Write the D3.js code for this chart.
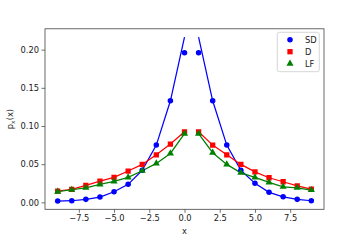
<!DOCTYPE html>
<html lang="en"><head>
<meta charset="utf-8">
<title>distributions</title>
<script src="https://cdn.jsdelivr.net/npm/d3@7"></script>
<style>
  body { margin: 0; background: #fff; }
  text { font-family: "DejaVu Sans", sans-serif; }
</style>
</head>
<body>
<svg width="360" height="240"></svg>
<script>
// data
var xs = [-9, -8, -7, -6, -5, -4, -3, -2, -1, 0, 1, 2, 3, 4, 5, 6, 7, 8, 9];
var sdPts = [0.0017, 0.0021, 0.0039, 0.0069, 0.0139, 0.0236, 0.042, 0.075, 0.133, 0.196,
             0.196, 0.133, 0.075, 0.042, 0.0249, 0.0131, 0.0073, 0.0039, 0.0021];
var sdLine = [0.0017, 0.0021, 0.0039, 0.0069, 0.0139, 0.0236, 0.042, 0.075, 0.133, 0.2165,
              0.2165, 0.133, 0.075, 0.042, 0.0249, 0.0131, 0.0073, 0.0039, 0.0021];
var dVals = [0.0148, 0.017, 0.0222, 0.0279, 0.0327, 0.041, 0.0497, 0.0623, 0.0763, 0.0924,
             0.0924, 0.075, 0.0623, 0.0497, 0.040, 0.0322, 0.027, 0.0217, 0.0174];
var lfVals = [0.0139, 0.0165, 0.0191, 0.0236, 0.0275, 0.0327, 0.0414, 0.051, 0.064, 0.09,
              0.09, 0.065, 0.0497, 0.0387, 0.0327, 0.0262, 0.0204, 0.0191, 0.0161];
var xTicks = [-7.5, -5, -2.5, 0, 2.5, 5, 7.5];
var yTicks = [0, 0.05, 0.10, 0.15, 0.20];
var legendNames = ["SD", "D", "LF"];

var svg = d3.select("svg");
var pl = 45, pr = 324, pt = 28.8, pb = 209.3;

var x = d3.scaleLinear().domain([-9.9, 9.9]).range([pl, pr]);
var y = d3.scaleLinear().domain([-0.0091, 0.2273]).range([pb, pt]);

svg.append("clipPath").attr("id", "plot")
  .append("rect").attr("x", pl).attr("y", pt)
  .attr("width", pr - pl).attr("height", pb - pt);

var series = [
  {name: "SD", pts: sdPts, line: sdLine, color: "#0000ff", shape: d3.symbolCircle, size: 24},
  {name: "D", pts: dVals, line: dVals, color: "#ff0000", shape: d3.symbolSquare, size: 28},
  {name: "LF", pts: lfVals, line: lfVals, color: "#008000", shape: d3.symbolTriangle, size: 22}
];

var line = d3.line().x(function(d) { return x(d[0]); }).y(function(d) { return y(d[1]); });

var g = svg.append("g").attr("clip-path", "url(#plot)");

// lines: left branch x<=0, right branch x>=1
series.forEach(function(s) {
  var pairs = xs.map(function(v, i) { return [v, s.line[i]]; });
  [pairs.filter(function(p) { return p[0] <= 0; }),
   pairs.filter(function(p) { return p[0] >= 1; })].forEach(function(part) {
    g.append("path").datum(part)
      .attr("d", line)
      .attr("fill", "none")
      .attr("stroke", s.color)
      .attr("stroke-width", 1.25);
  });
});

// markers
series.forEach(function(s) {
  g.selectAll(null)
    .data(xs.map(function(v, i) { return [v, s.pts[i]]; }))
    .enter().append("path")
    .attr("d", d3.symbol().type(s.shape).size(s.size))
    .attr("transform", function(d) { return "translate(" + x(d[0]) + "," + y(d[1]) + ")"; })
    .attr("fill", s.color);
});

// axes
var xAxis = svg.append("g").attr("transform", "translate(0," + pb + ")")
  .call(d3.axisBottom(x).tickValues(xTicks).tickFormat(d3.format(".1f")).tickSizeOuter(0).tickSize(3.5).tickPadding(2.5));
var yAxis = svg.append("g").attr("transform", "translate(" + pl + ",0)")
  .call(d3.axisLeft(y).tickValues(yTicks).tickFormat(d3.format(".2f")).tickSizeOuter(0).tickSize(3.5).tickPadding(2.5));
[xAxis, yAxis].forEach(function(a) {
  a.select(".domain").remove();
  a.selectAll("line").attr("stroke", "#333").attr("stroke-width", 0.7);
  a.selectAll("text").attr("font-size", "8.3px").attr("fill", "#222")
    .attr("font-family", "DejaVu Sans, sans-serif");
});

svg.append("rect")
  .attr("x", pl).attr("y", pt)
  .attr("width", pr - pl).attr("height", pb - pt)
  .attr("fill", "none").attr("stroke", "#444").attr("stroke-width", 0.8);

// axis labels
svg.append("text")
  .attr("x", (pl + pr) / 2).attr("y", 234)
  .attr("text-anchor", "middle").attr("font-size", "8.3px").attr("fill", "#222")
  .text("x");

var yl = svg.append("text")
  .attr("transform", "translate(13," + ((pt + pb) / 2) + ") rotate(-90)")
  .attr("text-anchor", "middle").attr("font-size", "8.3px").attr("fill", "#222");
yl.append("tspan").text("p");
yl.append("tspan").attr("font-size", "6px").attr("dy", 2).text("x");
yl.append("tspan").attr("dy", -2).text("(x)");

// legend
var lg = svg.append("g");
lg.append("rect")
  .attr("x", 277.3).attr("y", 32.3).attr("width", 42).attr("height", 39.4)
  .attr("rx", 2).attr("fill", "#fff").attr("fill-opacity", 0.8)
  .attr("stroke", "#ccc").attr("stroke-width", 0.8);
series.forEach(function(s, i) {
  var ly = 39.7 + i * 12;
  lg.append("path")
    .attr("d", d3.symbol().type(s.shape).size(s.size))
    .attr("transform", "translate(290," + ly + ")")
    .attr("fill", s.color);
  lg.append("text")
    .attr("x", 305).attr("y", ly).attr("dy", "0.35em")
    .attr("font-size", "8.3px").attr("fill", "#222")
    .text(legendNames[i]);
});
</script>
</body>
</html>
